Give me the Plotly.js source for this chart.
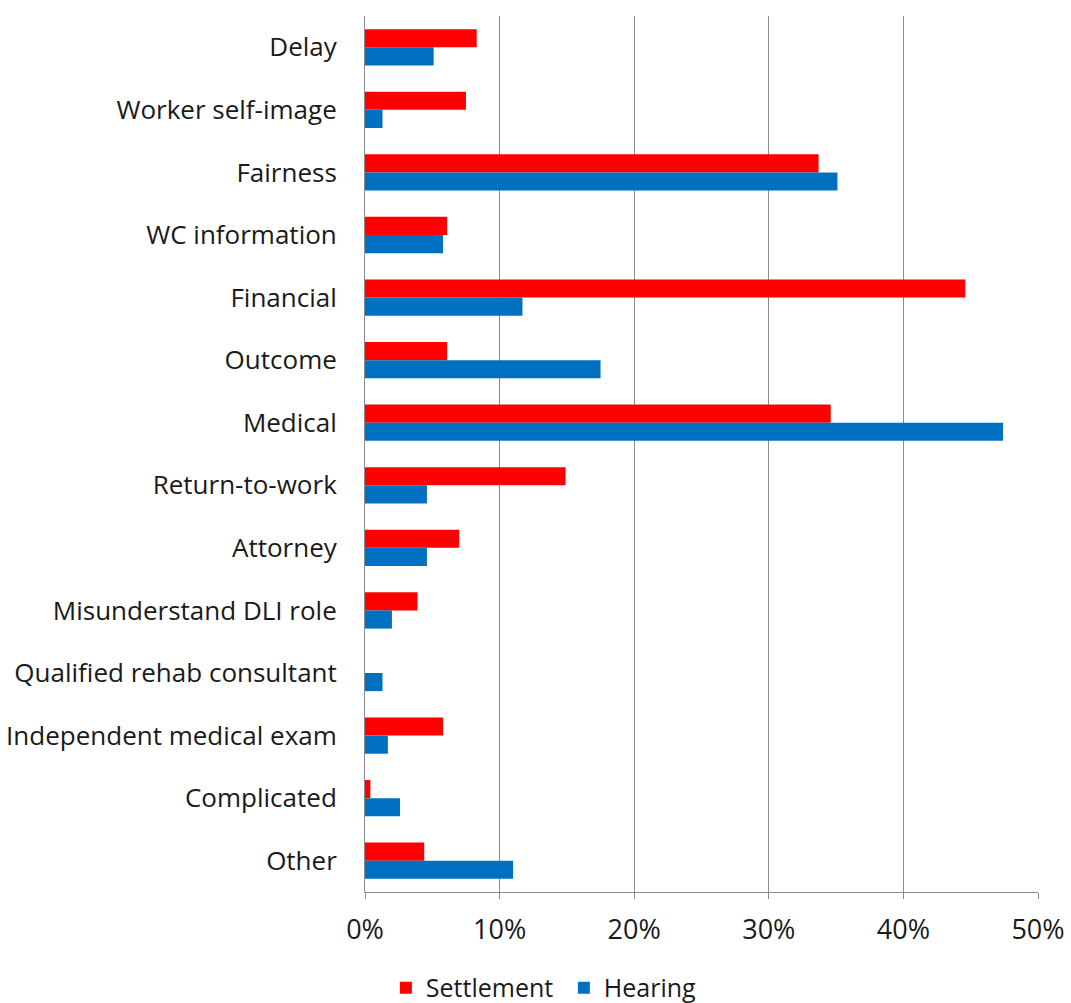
<!DOCTYPE html>
<html>
<head>
<meta charset="utf-8">
<script src="https://cdn.plot.ly/plotly-3.0.1.min.js"></script>
<style>html,body{margin:0;padding:0;background:#fff;}</style>
</head>
<body>
<div id="chart" style="width:1071px;height:1003px;"></div>
<script>
const categories = ["Delay","Worker self-image","Fairness","WC information","Financial","Outcome","Medical","Return-to-work","Attorney","Misunderstand DLI role","Qualified rehab consultant","Independent medical exam","Complicated","Other"];
const settlement = [0.083,0.075,0.337,0.061,0.446,0.061,0.346,0.149,0.070,0.039,0.0,0.058,0.004,0.044];
const hearing    = [0.051,0.013,0.351,0.058,0.117,0.175,0.474,0.046,0.046,0.020,0.013,0.017,0.026,0.110];
const tickVals = [0,0.1,0.2,0.3,0.4,0.5];
const tickText = ["0%","10%","20%","30%","40%","50%"];

const font = "'Open Sans', sans-serif";
const txt = "#1a1a1a";
const data = [
  {type:"bar", orientation:"h", name:"Settlement", y:categories, x:settlement, marker:{color:"#FF0000"}},
  {type:"bar", orientation:"h", name:"Hearing", y:categories, x:hearing, marker:{color:"#0070C0"}}
];
const layout = {
  width:1071, height:1003,
  margin:{l:365, r:33, t:16, b:111, autoexpand:false},
  paper_bgcolor:"#fff", plot_bgcolor:"#fff",
  barmode:"group", bargap:0.42, bargroupgap:0,
  font:{family:font, size:25, color:txt},
  xaxis:{range:[0,0.5], tickvals:tickVals, ticktext:tickText, showgrid:true, gridcolor:"#8c8c8c", gridwidth:1,
         zeroline:false, showline:true, linecolor:"#8c8c8c", ticks:"outside", ticklen:6, tickcolor:"#8c8c8c",
         ticklabelstandoff:8, tickfont:{family:font, size:27, color:txt}, fixedrange:true},
  yaxis:{autorange:"reversed", showline:true, linecolor:"#8c8c8c", ticks:"", ticklen:0, ticklabelstandoff:22,
         tickfont:{family:font, size:26, color:txt}, automargin:false},
  showlegend:true,
  legend:{orientation:"h", x:0.031, xanchor:"left", yref:"container", y:0.015, yanchor:"middle",
          entrywidth:133, entrywidthmode:"pixels",
          font:{family:font, size:25, color:txt}, traceorder:"normal"}
};
Plotly.newPlot("chart", data, layout, {displayModeBar:false, staticPlot:true});
</script>
</body>
</html>
